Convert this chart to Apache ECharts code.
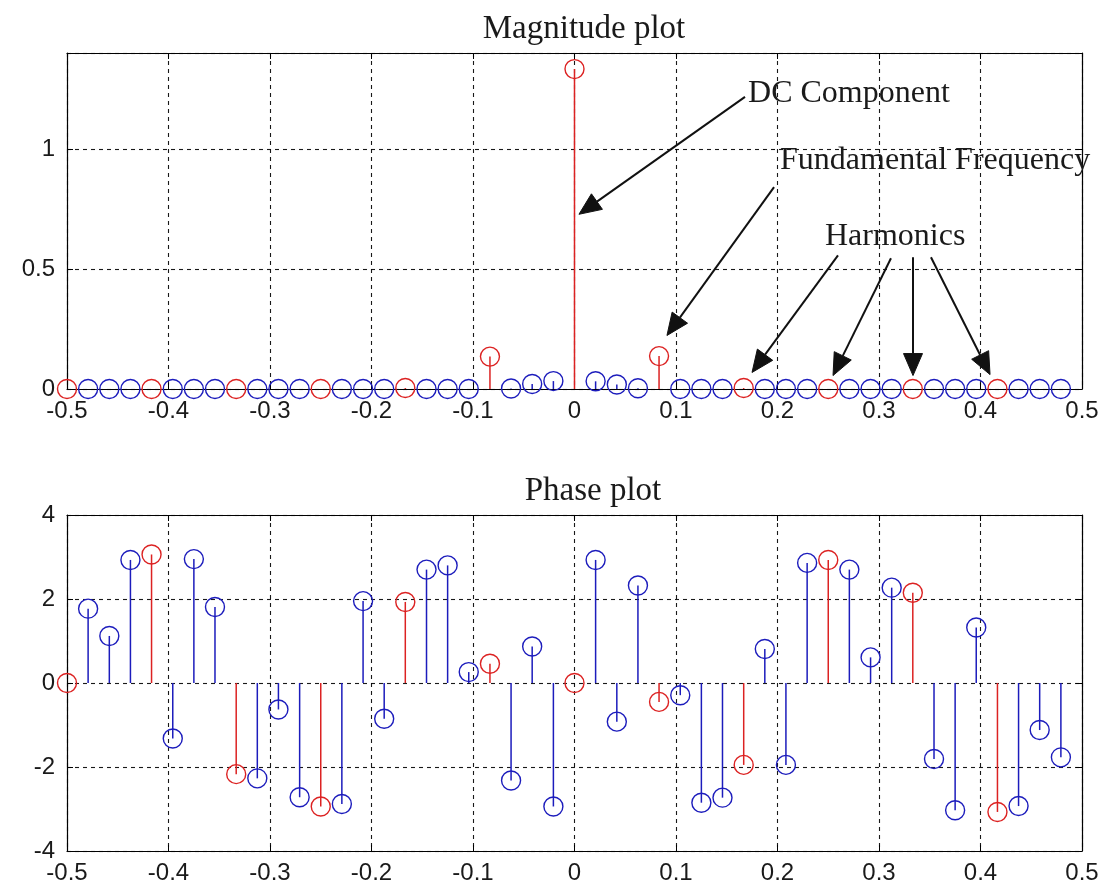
<!DOCTYPE html>
<html>
<head>
<meta charset="utf-8">
<script src="https://cdn.jsdelivr.net/npm/echarts@6/dist/echarts.min.js"></script>
<style>
  html, body { margin: 0; padding: 0; background: #fff; }
  #chart { width: 1102px; height: 889px; }
</style>
</head>
<body>
<div id="chart"></div>
<script>
// Normalised frequency bins (48-point DFT, fftshifted)
const freq = [
  -0.5000, -0.4792, -0.4583, -0.4375, -0.4167, -0.3958, -0.3750, -0.3542,
  -0.3333, -0.3125, -0.2917, -0.2708, -0.2500, -0.2292, -0.2083, -0.1875,
  -0.1667, -0.1458, -0.1250, -0.1042, -0.0833, -0.0625, -0.0417, -0.0208,
   0.0000,  0.0208,  0.0417,  0.0625,  0.0833,  0.1042,  0.1250,  0.1458,
   0.1667,  0.1875,  0.2083,  0.2292,  0.2500,  0.2708,  0.2917,  0.3125,
   0.3333,  0.3542,  0.3750,  0.3958,  0.4167,  0.4375,  0.4583,  0.4792
];

// |X(f)|
const magnitude = [
  0, 0, 0, 0, 0, 0, 0, 0,
  0, 0, 0, 0, 0, 0, 0, 0,
  0.004, 0, 0, 0, 0.135, 0.002, 0.021, 0.033,
  1.333, 0.032, 0.019, 0.003, 0.137, 0, 0, 0,
  0.004, 0, 0, 0, 0, 0, 0, 0,
  0, 0, 0, 0, 0, 0, 0, 0
];

// angle(X(f)) in radians
const phase = [
   0.00,  1.77,  1.12,  2.93,  3.06, -1.32,  2.95,  1.81,
  -2.17, -2.27, -0.63, -2.72, -2.94, -2.88,  1.95, -0.85,
   1.93,  2.70,  2.80,  0.26,  0.46, -2.32,  0.87, -2.94,
   0.00,  2.93, -0.92,  2.32, -0.45, -0.29, -2.85, -2.73,
  -1.95,  0.81, -1.95,  2.86,  2.93,  2.70,  0.61,  2.27,
   2.15, -1.81, -3.03,  1.32, -3.07, -2.93, -1.12, -1.77
];

// bins at multiples of the fundamental (1/12)
const harmonicIdx = [0, 4, 8, 12, 16, 20, 24, 28, 32, 36, 40, 44];

// annotation texts and their anchors (data units of the magnitude axes)
const noteText = ['DC Component', 'Fundamental Frequency', 'Harmonics'];
const noteX = [0.171, 0.2025, 0.2468];
const noteY = [1.229, 0.950, 0.637];

// annotation arrows: tail -> head (data units of the magnitude axes)
const arrowFromX = [0.168, 0.1966, 0.2596, 0.3118, 0.3335, 0.3512];
const arrowFromY = [1.217, 0.841, 0.557, 0.545, 0.549, 0.549];
const arrowToX   = [0.0044, 0.0911, 0.1749, 0.2547, 0.3335, 0.4094];
const arrowToY   = [0.728, 0.223, 0.069, 0.056, 0.056, 0.060];

const BLUE = '#1c1cbc';
const RED = '#dc2222';
const INK = '#000';
const tickFont = { fontFamily: 'Liberation Sans', fontSize: 24, color: '#1a1a1a' };

const isHarmonic = (i) => harmonicIdx.indexOf(i) >= 0;
const otherPts = (vals) => freq.map((f, i) => [f, vals[i], i]).filter(p => !isHarmonic(p[2]));
const harmPts = (vals) => harmonicIdx.map(i => [freq[i], vals[i], i]);

function stemSeries(data, color, gi) {
  return {
    type: 'custom',
    coordinateSystem: 'cartesian2d',
    xAxisIndex: gi * 2, yAxisIndex: gi * 2,
    encode: { x: 0, y: 1 },
    silent: true,
    clip: false,
    data: data,
    renderItem: function (params, api) {
      const x = api.value(0), y = api.value(1);
      const p0 = api.coord([x, 0]);
      const p1 = api.coord([x, y]);
      return {
        type: 'line',
        shape: { x1: p0[0], y1: p0[1], x2: p1[0], y2: p1[1] },
        style: { stroke: color, lineWidth: 1.5 }
      };
    }
  };
}

function headSeries(data, color, gi) {
  return {
    type: 'scatter',
    xAxisIndex: gi * 2, yAxisIndex: gi * 2,
    symbol: 'circle',
    symbolSize: 19,
    silent: true,
    clip: false,
    itemStyle: { color: 'rgba(0,0,0,0)', borderColor: color, borderWidth: 1.4, opacity: 1 },
    data: data
  };
}

const gridLine = { show: true, lineStyle: { color: INK, type: [4, 4], width: 1.1, opacity: 0.9 } };

function xAxes(gi) {
  return [{
    type: 'value', gridIndex: gi, min: -0.5, max: 0.5, interval: 0.1, position: 'bottom',
    axisLine: { show: true, onZero: false, lineStyle: { color: INK, width: 1.2 } },
    axisTick: { show: true, inside: true, length: 6, lineStyle: { color: INK } },
    axisLabel: Object.assign({ margin: 10 }, tickFont),
    splitLine: gridLine
  }, {
    type: 'value', gridIndex: gi, min: -0.5, max: 0.5, interval: 0.1, position: 'top',
    axisLine: { show: true, onZero: false, lineStyle: { color: INK, width: 1.2 } },
    axisTick: { show: true, inside: true, length: 6, lineStyle: { color: INK } },
    axisLabel: { show: false },
    splitLine: { show: false }
  }];
}

function yAxes(gi, min, max, interval) {
  return [{
    type: 'value', gridIndex: gi, min: min, max: max, interval: interval, position: 'left',
    axisLine: { show: true, onZero: false, lineStyle: { color: INK, width: 1.2 } },
    axisTick: { show: true, inside: true, length: 6, lineStyle: { color: INK } },
    axisLabel: Object.assign({ margin: 12, showMaxLabel: max % interval === 0 }, tickFont),
    splitLine: gridLine
  }, {
    type: 'value', gridIndex: gi, min: min, max: max, interval: interval, position: 'right',
    axisLine: { show: true, onZero: false, lineStyle: { color: INK, width: 1.2 } },
    axisTick: { show: true, inside: true, length: 6, lineStyle: { color: INK } },
    axisLabel: { show: false },
    splitLine: { show: false }
  }];
}

const arrowData = arrowFromX.map((_, i) => [arrowFromX[i], arrowFromY[i], arrowToX[i], arrowToY[i]]);
const noteData = noteText.map((_, i) => [noteX[i], noteY[i], i]);

const chart = echarts.init(document.getElementById('chart'), null, { renderer: 'canvas' });

chart.setOption({
  backgroundColor: '#fff',
  animation: false,
  title: [{
    text: 'Magnitude plot', left: 579, top: 8, textAlign: 'center',
    textStyle: { fontFamily: 'Liberation Serif', fontSize: 33, fontWeight: 'normal', color: '#1a1a1a' }
  }, {
    text: 'Phase plot', left: 588, top: 470, textAlign: 'center',
    textStyle: { fontFamily: 'Liberation Serif', fontSize: 33, fontWeight: 'normal', color: '#1a1a1a' }
  }],
  grid: [
    { left: 67, top: 53, width: 1015, height: 336, containLabel: false },
    { left: 67, top: 515, width: 1015, height: 336, containLabel: false }
  ],
  xAxis: [].concat(xAxes(0), xAxes(1)),
  yAxis: [].concat(yAxes(0, 0, 1.4, 0.5), yAxes(1, -4, 4, 2)),
  series: [
    stemSeries(otherPts(magnitude), BLUE, 0),
    headSeries(otherPts(magnitude), BLUE, 0),
    stemSeries(harmPts(magnitude), RED, 0),
    headSeries(harmPts(magnitude), RED, 0),
    stemSeries(otherPts(phase), BLUE, 1),
    headSeries(otherPts(phase), BLUE, 1),
    stemSeries(harmPts(phase), RED, 1),
    headSeries(harmPts(phase), RED, 1),
    {
      // annotation arrows with filled heads
      type: 'custom', coordinateSystem: 'cartesian2d', xAxisIndex: 0, yAxisIndex: 0,
      encode: { x: [0, 2], y: [1, 3] }, silent: true, clip: false, z: 10,
      data: arrowData,
      renderItem: function (params, api) {
        const a = api.coord([api.value(0), api.value(1)]);
        const b = api.coord([api.value(2), api.value(3)]);
        const dx = b[0] - a[0], dy = b[1] - a[1];
        const len = Math.sqrt(dx * dx + dy * dy);
        const ux = dx / len, uy = dy / len;
        const L = 22, W = 9.5;
        const bx = b[0] - ux * L, by = b[1] - uy * L;
        return {
          type: 'group',
          children: [{
            type: 'line',
            shape: { x1: a[0], y1: a[1], x2: bx, y2: by },
            style: { stroke: '#111', lineWidth: 2 }
          }, {
            type: 'polygon',
            shape: { points: [[b[0], b[1]], [bx - uy * W, by + ux * W], [bx + uy * W, by - ux * W]] },
            style: { fill: '#111', stroke: '#111', lineWidth: 1 }
          }]
        };
      }
    },
    {
      // annotation texts
      type: 'custom', coordinateSystem: 'cartesian2d', xAxisIndex: 0, yAxisIndex: 0,
      encode: { x: 0, y: 1 }, silent: true, clip: false, z: 11,
      data: noteData,
      renderItem: function (params, api) {
        const p = api.coord([api.value(0), api.value(1)]);
        return {
          type: 'text',
          x: p[0], y: p[1],
          style: {
            text: noteText[api.value(2)],
            font: '32px "Liberation Serif"',
            fill: '#1a1a1a',
            align: 'left',
            verticalAlign: 'middle'
          }
        };
      }
    }
  ]
});
</script>
</body>
</html>
